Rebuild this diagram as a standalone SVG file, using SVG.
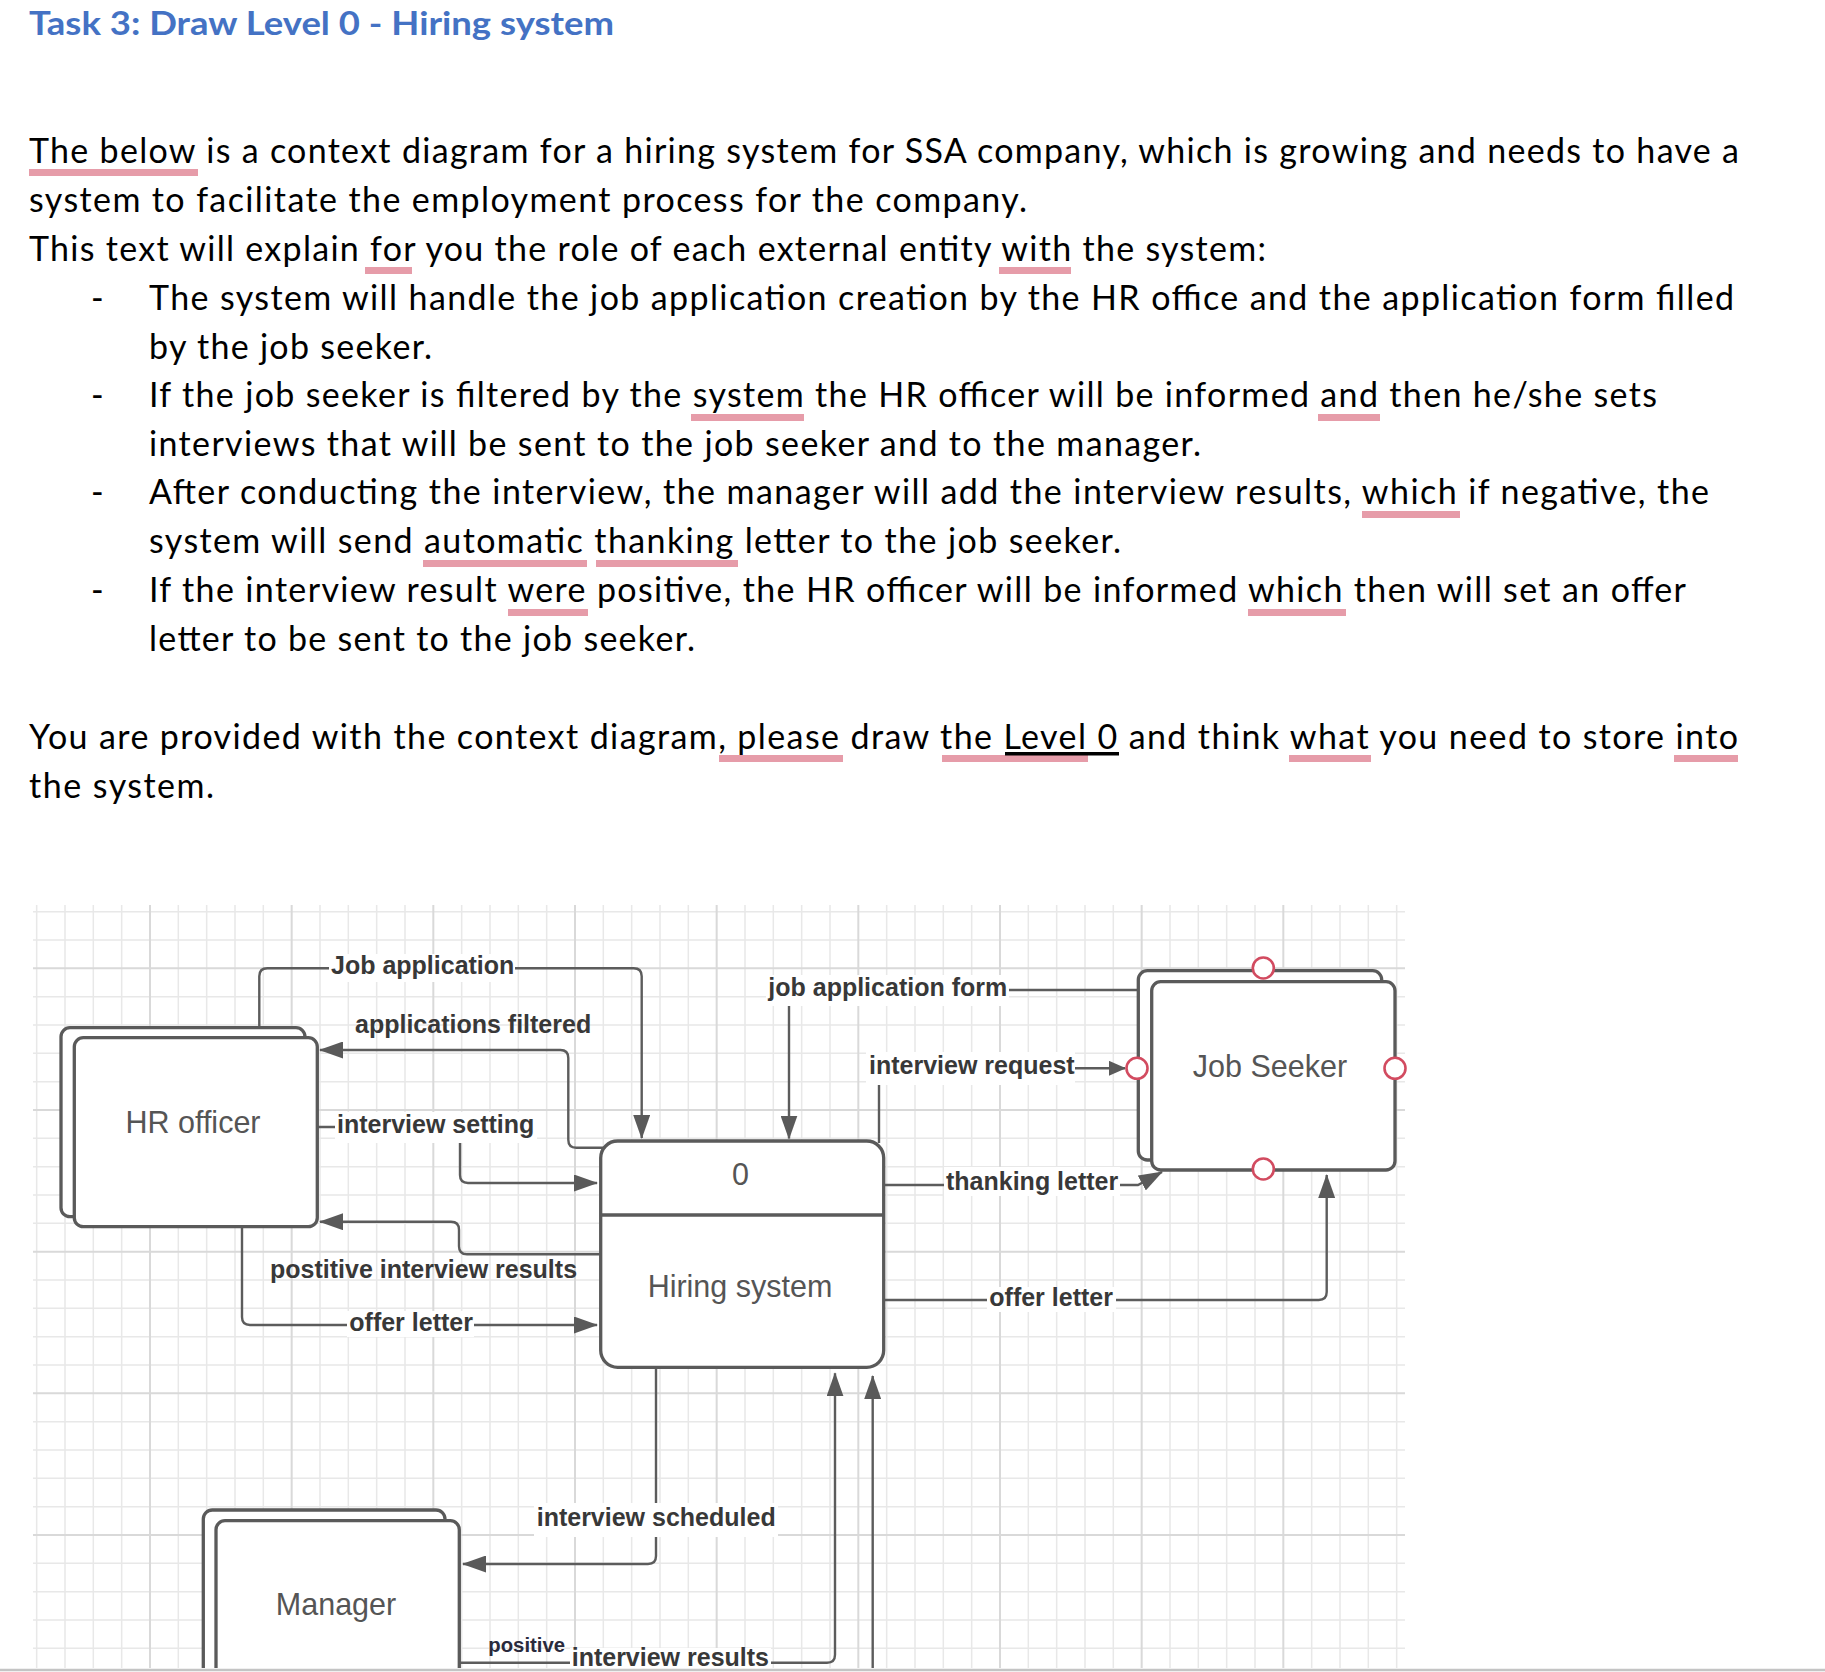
<svg xmlns="http://www.w3.org/2000/svg" width="1825" height="1672" viewBox="0 0 1825 1672">
<style>
.body{font-family:Lato,"Liberation Sans",sans-serif;font-size:34px;fill:#000}
.title{font-family:Lato,"Liberation Sans",sans-serif;font-size:33px;font-weight:bold;fill:#4472C4}
.spell{fill:#E69CA9}
.gmin{stroke:#e8e8e8;stroke-width:1.5;fill:none}
.gmaj{stroke:#d9d9d9;stroke-width:2;fill:none}
.ent{fill:#fff;stroke:#5a5a5a;stroke-width:3.3}
.nlabel{font-family:"Liberation Sans",Arial,sans-serif;font-size:30.5px;fill:#555;text-anchor:middle}
.conn{fill:none;stroke:#5c5c5c;stroke-width:2.4}
.clabel{font-family:"Liberation Sans",Arial,sans-serif;font-size:25px;font-weight:bold;fill:#383838}
.lbg{fill:#fff}
.port{fill:#fff;stroke:#d24b60;stroke-width:2.6}
</style>
<defs>
<marker id="arr" markerUnits="userSpaceOnUse" markerWidth="24" markerHeight="17" viewBox="0 0 24 17" refX="23" refY="8.5" orient="auto">
<path d="M0,0 L24,8.5 L0,17 Z" fill="#5a5a5a"/>
</marker>
<marker id="arrs" markerUnits="userSpaceOnUse" markerWidth="17" markerHeight="15" viewBox="0 0 17 15" refX="16" refY="7.5" orient="auto">
<path d="M0,0 L17,7.5 L0,15 Z" fill="#5a5a5a"/>
</marker>
<clipPath id="gridclip"><rect x="33" y="905" width="1372" height="763"/></clipPath>
<clipPath id="bottomclip"><rect x="0" y="0" width="1825" height="1668"/></clipPath>
</defs>
<rect x="0" y="0" width="1825" height="1672" fill="#fff"/>

<!-- Heading and text -->
<text class="title" x="29" y="35" textLength="585" lengthAdjust="spacingAndGlyphs">Task 3: Draw Level 0 - Hiring system</text>

<g id="body-text">
<text class="body" x="29" y="163" textLength="1710" lengthAdjust="spacing">The below is a context diagram for a hiring system for SSA company, which is growing and needs to have a</text>
<text class="body" x="29" y="212" textLength="998" lengthAdjust="spacing">system to facilitate the employment process for the company.</text>
<text class="body" x="29" y="261" textLength="1237" lengthAdjust="spacing">This text will explain for you the role of each external entity with the system:</text>
<text class="body" x="91" y="310">-</text>
<text class="body" x="149" y="310" textLength="1585" lengthAdjust="spacing">The system will handle the job application creation by the HR office and the application form filled</text>
<text class="body" x="149" y="359" textLength="283" lengthAdjust="spacing">by the job seeker.</text>
<text class="body" x="91" y="407">-</text>
<text class="body" x="149" y="407" textLength="1508" lengthAdjust="spacing">If the job seeker is filtered by the system the HR officer will be informed and then he/she sets</text>
<text class="body" x="149" y="456" textLength="1052" lengthAdjust="spacing">interviews that will be sent to the job seeker and to the manager.</text>
<text class="body" x="91" y="504">-</text>
<text class="body" x="149" y="504" textLength="1560" lengthAdjust="spacing">After conducting the interview, the manager will add the interview results, which if negative, the</text>
<text class="body" x="149" y="553" textLength="972" lengthAdjust="spacing">system will send automatic thanking letter to the job seeker.</text>
<text class="body" x="91" y="602">-</text>
<text class="body" x="149" y="602" textLength="1537" lengthAdjust="spacing">If the interview result were positive, the HR officer will be informed which then will set an offer</text>
<text class="body" x="149" y="651" textLength="546" lengthAdjust="spacing">letter to be sent to the job seeker.</text>
<text class="body" x="29" y="749" textLength="1709" lengthAdjust="spacing">You are provided with the context diagram, please draw the Level 0 and think what you need to store into</text>
<text class="body" x="29" y="798" textLength="185" lengthAdjust="spacing">the system.</text>
</g>

<g id="spell-marks">
<rect class="spell" x="29" y="169" width="169" height="7"/>
<rect class="spell" x="365" y="267" width="47" height="7"/>
<rect class="spell" x="999" y="267" width="72" height="7"/>
<rect class="spell" x="691" y="414" width="113" height="7"/>
<rect class="spell" x="1318" y="414" width="62" height="7"/>
<rect class="spell" x="1362" y="511" width="98" height="7"/>
<rect class="spell" x="423" y="560" width="164" height="7"/>
<rect class="spell" x="596" y="560" width="142" height="7"/>
<rect class="spell" x="508" y="609" width="80" height="7"/>
<rect class="spell" x="1248" y="609" width="98" height="7"/>
<rect class="spell" x="719" y="755" width="124" height="7"/>
<rect class="spell" x="942" y="755" width="146" height="7"/>
<rect class="spell" x="1289" y="755" width="82" height="7"/>
<rect class="spell" x="1674" y="755" width="64" height="7"/>
<rect x="1005" y="752" width="114" height="3.5" fill="#000"/>
</g>

<!-- Grid background -->
<g id="grid" clip-path="url(#gridclip)">
<path class="gmin" d="M36.67 905V1668M65 905V1668M93.33 905V1668M121.67 905V1668M178.33 905V1668M206.67 905V1668M235 905V1668M263.33 905V1668M320 905V1668M348.33 905V1668M376.67 905V1668M405 905V1668M461.67 905V1668M490 905V1668M518.33 905V1668M546.67 905V1668M603.33 905V1668M631.67 905V1668M660 905V1668M688.33 905V1668M745 905V1668M773.33 905V1668M801.67 905V1668M830 905V1668M886.67 905V1668M915 905V1668M943.33 905V1668M971.67 905V1668M1028.33 905V1668M1056.67 905V1668M1085 905V1668M1113.33 905V1668M1170 905V1668M1198.33 905V1668M1226.67 905V1668M1255 905V1668M1311.67 905V1668M1340 905V1668M1368.33 905V1668M1396.67 905V1668"/>
<path class="gmin" d="M33 911.67H1405M33 940H1405M33 996.67H1405M33 1025H1405M33 1053.33H1405M33 1081.67H1405M33 1138.33H1405M33 1166.67H1405M33 1195H1405M33 1223.33H1405M33 1280H1405M33 1308.33H1405M33 1336.67H1405M33 1365H1405M33 1421.67H1405M33 1450H1405M33 1478.33H1405M33 1506.67H1405M33 1563.33H1405M33 1591.67H1405M33 1620H1405M33 1648.33H1405"/>
<path class="gmaj" d="M150 905V1668M291.67 905V1668M433.33 905V1668M575 905V1668M716.67 905V1668M858.33 905V1668M1000 905V1668M1141.67 905V1668M1283.33 905V1668M33 968.33H1405M33 1110H1405M33 1251.67H1405M33 1393.33H1405M33 1535H1405"/>
</g>

<!-- Connectors -->
<g id="connectors">
<path class="conn" d="M259.3,1027.7 V976.3 Q259.3,968.3 267.3,968.3 H633.7 Q641.7,968.3 641.7,976.3 V1138" marker-end="url(#arr)"/>
<path class="conn" d="M604,1147.7 H576.3 Q568.3,1147.7 568.3,1139.7 V1058 Q568.3,1050 560.3,1050 H320" marker-end="url(#arr)"/>
<path class="conn" d="M318,1127 H452 Q460,1127 460,1135 V1175 Q460,1183 468,1183 H597" marker-end="url(#arr)"/>
<path class="conn" d="M600.7,1254.3 H467 Q459,1254.3 459,1246.3 V1229.7 Q459,1221.7 451,1221.7 H320" marker-end="url(#arr)"/>
<path class="conn" d="M242,1227 V1317 Q242,1325 250,1325 H597" marker-end="url(#arr)"/>
<path class="conn" d="M1138.3,990 H797 Q789,990 789,998 V1138.5" marker-end="url(#arr)"/>
<path class="conn" d="M879,1143 V1076.3 Q879,1068.3 887,1068.3 H1125" marker-end="url(#arrs)"/>
<path class="conn" d="M883.3,1185 H1138 L1162,1172" marker-end="url(#arr)"/>
<path class="conn" d="M885,1300 H1318.7 Q1326.7,1300 1326.7,1292 V1175" marker-end="url(#arr)"/>
<path class="conn" d="M656,1367.3 V1556 Q656,1564 648,1564 H463" marker-end="url(#arr)"/>
<path class="conn" d="M459.3,1662.7 H827 Q835,1662.7 835,1654.7 V1373.3" marker-end="url(#arr)"/>
<path class="conn" d="M872.7,1668 V1376" marker-end="url(#arr)"/>

<rect class="lbg" x="329" y="954" width="186" height="28"/>
<text class="clabel" x="331" y="974">Job application</text>
<text class="clabel" x="355" y="1033">applications filtered</text>
<rect class="lbg" x="335" y="1112" width="202" height="31"/>
<text class="clabel" x="337" y="1133">interview setting</text>
<text class="clabel" x="270" y="1277.5">postitive interview results</text>
<rect class="lbg" x="347" y="1311" width="127" height="26"/>
<text class="clabel" x="349.3" y="1331">offer letter</text>
<rect class="lbg" x="766" y="975" width="243" height="31"/>
<text class="clabel" x="768.3" y="995.7">job application form</text>
<rect class="lbg" x="866" y="1052" width="209" height="33"/>
<text class="clabel" x="869" y="1074.3">interview request</text>
<rect class="lbg" x="944" y="1167" width="176" height="29"/>
<text class="clabel" x="946" y="1190">thanking letter</text>
<rect class="lbg" x="987" y="1287" width="129" height="25"/>
<text class="clabel" x="989.3" y="1306">offer letter</text>
<rect class="lbg" x="534" y="1503" width="244" height="34"/>
<text class="clabel" x="536.7" y="1526">interview scheduled</text>
<rect class="lbg" x="570" y="1648" width="201" height="20"/>
<text class="clabel" x="571.7" y="1666">interview results</text>
<text x="488.3" y="1652" font-family="'Liberation Sans',Arial,sans-serif" font-size="20" font-weight="bold" fill="#2a2a3c" textLength="76.7" lengthAdjust="spacingAndGlyphs">positive</text>
</g>

<!-- Nodes -->
<g id="node-hr-officer">
<rect class="ent" x="61" y="1027.7" width="244" height="189" rx="9"/>
<rect class="ent" x="74.3" y="1037.7" width="243" height="189" rx="9"/>
<text class="nlabel" x="193" y="1133">HR officer</text>
</g>

<g id="node-hiring-system">
<rect class="ent" x="600.7" y="1141" width="283" height="226.3" rx="17"/>
<line x1="600.7" y1="1215" x2="883.7" y2="1215" stroke="#5a5a5a" stroke-width="3.3"/>
<text class="nlabel" x="740.5" y="1184.5" font-size="29">0</text>
<text class="nlabel" x="740" y="1297">Hiring system</text>
</g>

<g id="node-job-seeker">
<rect class="ent" x="1138.3" y="970.7" width="243.4" height="189.3" rx="9"/>
<rect class="ent" x="1151.7" y="981.7" width="243.3" height="188.3" rx="9"/>
<text class="nlabel" x="1270" y="1077">Job Seeker</text>
<circle class="port" cx="1263.3" cy="968" r="10.5"/>
<circle class="port" cx="1137" cy="1068.3" r="10.5"/>
<circle class="port" cx="1395" cy="1068.3" r="10.5"/>
<circle class="port" cx="1263.3" cy="1169" r="10.5"/>
</g>

<g id="node-manager" clip-path="url(#bottomclip)">
<rect class="ent" x="203.3" y="1510" width="241.7" height="250" rx="9"/>
<rect class="ent" x="216" y="1520.7" width="243.3" height="250" rx="9"/>
<text class="nlabel" x="336" y="1615">Manager</text>
</g>

<line x1="0" y1="1670" x2="1825" y2="1670" stroke="#c4c4c4" stroke-width="2.5"/>
</svg>
